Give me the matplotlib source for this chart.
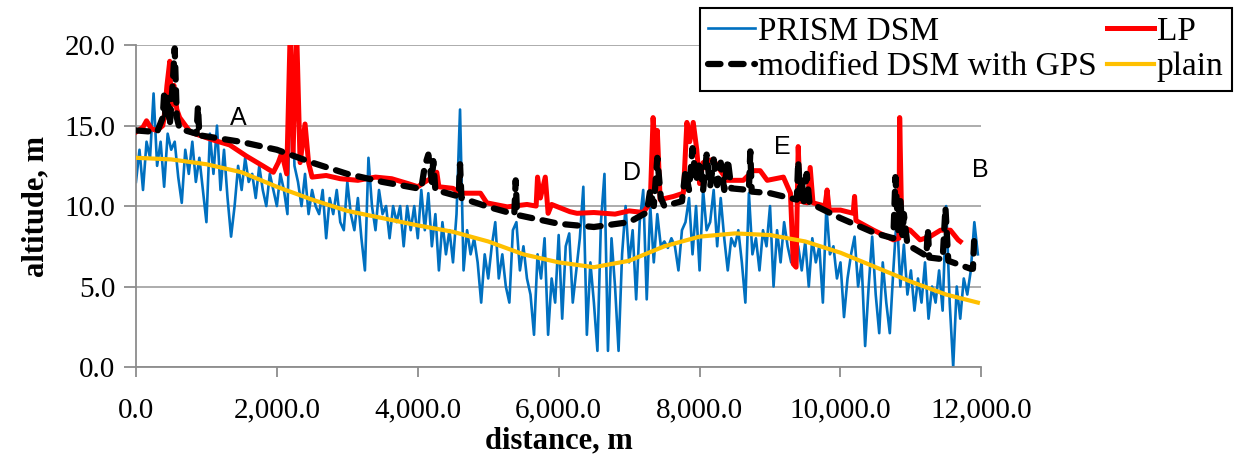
import numpy as np
import matplotlib
matplotlib.use("Agg")
import matplotlib.pyplot as plt

# PRISM DSM altitude, one value every 50 m from 0 m
prism_alt = [
    11.5, 13.5, 11.0, 14.0, 13.0, 17.0, 12.5, 14.0, 11.2, 14.5,
    13.5, 14.0, 11.8, 10.2, 13.5, 12.0, 14.0, 11.5, 13.0, 11.0,
    9.0, 14.5, 12.0, 15.0, 11.0, 13.5, 10.5, 8.1, 10.0, 12.5,
    11.0, 13.0, 11.5, 12.0, 10.5, 12.5, 11.0, 10.0, 12.0, 11.0,
    # 2000 m
    10.0, 12.0, 11.0, 9.5, 19.0, 12.5, 11.5, 10.0, 12.0, 9.5,
    11.0, 10.0, 9.5, 11.0, 8.0, 10.5, 9.5, 11.0, 9.0, 8.5,
    11.5, 9.5, 8.5, 10.5, 8.0, 6.0, 13.0, 10.0, 8.5, 11.0,
    9.5, 10.0, 8.0, 10.0, 9.0, 10.0, 7.5, 10.0, 8.5, 10.0,
    8.0,
    # 4050 m
    11.0, 8.5, 10.8, 7.5, 9.5, 6.0, 9.0, 7.0, 8.5, 6.5,
    9.5, 16.0, 6.0, 8.5, 7.0, 8.0, 6.5, 4.0, 7.0, 5.5,
    7.5, 9.0, 5.5, 7.0, 5.0, 4.0, 8.5, 9.0, 6.0, 7.5,
    5.5, 4.5, 2.0, 7.0, 5.5, 8.0, 2.0, 5.5, 4.0, 8.2,
    3.0,
    # 6100 m
    7.5, 8.3, 4.0, 6.0, 8.0, 11.2, 2.0, 6.5, 4.0, 1.0,
    9.0, 12.0, 1.0, 8.0, 5.0, 1.0, 7.0, 10.0, 6.5, 8.5,
    4.2, 9.0, 11.0, 4.2, 10.0, 6.5, 9.5, 7.5, 7.8, 7.4,
    8.0, 7.5, 6.0, 8.5, 9.0, 10.5, 7.0, 10.0, 6.0, 11.0,
    8.5,
    # 8150 m
    9.0, 11.0, 7.5, 10.5, 8.0, 6.0, 8.0, 7.5, 8.5, 6.5,
    4.0, 10.8, 7.0, 8.0, 6.0, 8.5, 7.5, 10.0, 5.0, 8.5,
    6.5, 9.0, 7.5, 6.5, 8.0, 7.5, 6.0, 7.8, 5.0, 8.0,
    6.5, 7.5, 4.0, 10.0, 7.0, 7.5, 5.5, 6.5, 3.1, 5.5,
    # 10150 m
    7.0, 8.1, 5.0, 6.5, 1.3, 5.0, 8.1, 4.5, 2.1, 6.5,
    4.0, 2.1, 6.0, 9.5, 5.0, 7.6, 4.5, 6.0, 3.5, 5.5,
    4.0, 6.5, 3.0, 5.0, 4.0, 6.0, 3.5, 10.0, 4.0, 0.0,
    5.0, 3.0, 5.5, 4.5, 6.0, 9.0, 7.0,
]
prism_dist = np.arange(len(prism_alt)) * 50

lp_dist = [0, 100, 150, 220, 300, 380, 400, 440, 480, 500, 540, 580, 620, 770,
           900, 1100, 1330, 1570, 1800, 1950, 2020, 2070, 2140, 2190, 2230, 2280,
           2330, 2400, 2450, 2500, 2700, 2900, 3150, 3400, 3630, 3860, 4000, 4100,
           4220, 4270, 4300, 4500, 4600, 4890, 4980, 5270, 5550, 5680, 5700, 5740,
           5810, 5850, 5900, 6160, 6260, 6500, 6800, 7000, 7200, 7300, 7340, 7380,
           7400, 7440, 7630, 7770, 7820, 7860, 7910, 7960, 8000, 8050, 8190, 8390,
           8620, 8760, 8860, 8960, 9190, 9290, 9330, 9370, 9400, 9430, 9530, 9570,
           9610, 9780, 9810, 9840, 10000, 10180, 10200, 10220, 10470, 10750, 10830,
           10840, 10870, 10990, 11130, 11270, 11420, 11560, 11670, 11700]
lp_alt = [14.6, 14.9, 15.3, 14.8, 14.7, 15.0, 15.5, 17.5, 19.0, 16.2, 17.5, 16.0,
          15.5, 14.6, 14.4, 14.1, 13.8, 13.1, 12.5, 12.1, 12.7, 13.3, 12.0, 21.0,
          13.3, 21.0, 12.7, 15.1, 12.7, 11.8, 11.9, 11.7, 11.6, 11.8, 11.7, 11.4,
          11.2, 11.5, 11.8, 12.1, 11.2, 11.1, 10.8, 10.8, 10.2, 9.95, 10.1, 10.0,
          11.8, 10.5, 11.8, 9.55, 10.1, 9.65, 9.55, 9.6, 9.5, 9.7, 9.6, 10.2, 15.5,
          13.0, 14.7, 10.4, 10.6, 10.8, 15.2, 14.0, 15.2, 13.5, 11.4, 12.7, 12.9,
          11.6, 11.6, 12.2, 12.2, 11.6, 11.8, 10.8, 6.4, 6.2, 13.7, 10.3, 10.2,
          12.4, 10.2, 10.0, 11.0, 9.75, 9.75, 9.55, 10.6, 9.1, 8.5, 7.9, 8.0, 15.5,
          8.7, 8.5, 7.9, 8.1, 8.5, 8.5, 7.9, 7.8]

gps_dist = [0, 300, 380, 400, 420, 450, 480, 520, 550, 580, 620, 860, 880, 900,
            1480, 2000, 2500, 3000, 3500, 4000, 4050, 4100, 4150, 4200, 4220, 4250,
            4580, 4600, 4620, 5000, 5370, 5390, 5410, 6000, 6500, 7000, 7250, 7300,
            7350, 7400, 7450, 7500, 7750, 7800, 7850, 7900, 7950, 8000, 8050, 8100,
            8150, 8200, 8250, 8300, 8350, 8400, 8450, 8700, 8720, 8740, 9000, 9380,
            9400, 9430, 9450, 9480, 9520, 9560, 10000, 10500, 10750, 10780, 10820,
            10850, 10880, 10900, 10950, 11220, 11240, 11260, 11450, 11490, 11530,
            11850, 11880, 11900]
gps_alt = [14.7, 14.6, 15.5, 17.0, 15.5, 16.8, 15.0, 17.5, 19.8, 15.5, 14.8, 14.5,
           16.2, 14.4, 14.0, 13.5, 12.7, 12.0, 11.5, 11.1, 11.1, 12.5, 13.2, 11.5,
           12.8, 11.0, 10.6, 12.6, 10.5, 9.95, 9.5, 11.6, 9.45, 8.9, 8.7, 9.0, 9.6,
           11.0, 10.0, 13.0, 10.5, 10.0, 10.3, 12.2, 11.0, 13.6, 11.5, 12.8, 11.0,
           13.2, 11.2, 12.9, 11.3, 12.7, 11.0, 12.9, 11.1, 11.0, 13.4, 10.9, 10.8,
           10.4, 12.8, 10.5, 11.6, 10.3, 12.0, 10.2, 9.25, 8.3, 8.0, 11.8, 8.5, 10.5,
           8.2, 9.5, 7.6, 6.9, 8.6, 6.8, 6.7, 9.9, 6.6, 6.1, 6.1, 8.2]

plain_dist = [0, 500, 1000, 1500, 2000, 2500, 3000, 3500, 4000, 4500, 5000, 5500,
              6000, 6500, 7000, 7500, 8000, 8500, 9000, 9500, 10000, 10500, 11000,
              11500, 11950]
plain_alt = [13.0, 12.9, 12.6, 12.1, 11.2, 10.4, 9.7, 9.25, 8.8, 8.4, 7.8, 7.0,
             6.5, 6.2, 6.6, 7.5, 8.1, 8.3, 8.2, 7.8, 7.1, 6.2, 5.3, 4.5, 4.0]

labels = ["A", "D", "E", "B"]
label_dist = [1450, 7045, 9175, 11985]
label_alt = [15.5, 12.05, 13.65, 12.25]

serif = ["Liberation Serif", "DejaVu Serif"]

fig = plt.figure(figsize=(12.36, 4.61), dpi=100)
ax = fig.add_axes([0.110, 0.204, 0.684, 0.698])

l1, = ax.plot(prism_dist, prism_alt, color="#0070C0", lw=1.9, zorder=2)
l2, = ax.plot(lp_dist, lp_alt, color="#FF0000", lw=3.6, zorder=3)
l3, = ax.plot(gps_dist, gps_alt, color="black", lw=4.5, zorder=4,
              dashes=(2.0, 1.7), dash_capstyle="round")
l4, = ax.plot(plain_dist, plain_alt, color="#FFC000", lw=3.0, zorder=5)

for t, xv, yv in zip(labels, label_dist, label_alt):
    ax.text(xv, yv, t, ha="center", va="center", fontsize=18,
            family="Liberation Sans", zorder=6)

ax.set_xlim(0, 12000)
ax.set_ylim(0, 20)
ax.set_xticks(np.arange(0, 12001, 2000))
ax.set_yticks(np.arange(0, 20.1, 5))
ax.xaxis.set_major_formatter(matplotlib.ticker.FuncFormatter(lambda v, p: f"{v:,.1f}"))
ax.yaxis.set_major_formatter(matplotlib.ticker.FuncFormatter(lambda v, p: f"{v:.1f}"))

ax.grid(axis="y", color="#A6A6A6", lw=1.3)
ax.set_axisbelow(True)
for s in ["top", "right"]:
    ax.spines[s].set_visible(False)
for s in ["left", "bottom"]:
    ax.spines[s].set_color("#8C8C8C")
    ax.spines[s].set_linewidth(1.3)
ax.tick_params(axis="both", colors="#8C8C8C", width=1.3, labelcolor="black",
               labelsize=21, direction="out")
ax.tick_params(axis="x", length=7, pad=15)
ax.tick_params(axis="y", length=9, pad=6)
for lab in ax.get_xticklabels() + ax.get_yticklabels():
    lab.set_family(serif)

ax.set_xlabel("distance, m", family=serif, fontsize=22, fontweight="bold", labelpad=2)
ax.set_ylabel("altitude, m", family=serif, fontsize=22, fontweight="bold", labelpad=10)

# legend fills column by column, so order gives rows PRISM/LP and modified/plain
leg = fig.legend([l1, l3, l2, l4], ["PRISM DSM", "modified DSM with GPS", "LP", "plain"],
                 loc="upper right", bbox_to_anchor=(1232 / 1236, 1 - 8 / 461),
                 ncol=2, frameon=True, fancybox=False, framealpha=1,
                 prop={"family": serif, "size": 24}, handlelength=1.4,
                 handletextpad=0.1, columnspacing=0.3, borderpad=0.25,
                 labelspacing=0.15, borderaxespad=0)
leg.get_frame().set_edgecolor("black")
leg.get_frame().set_linewidth(1.5)
leg.set_zorder(10)

fig.savefig("out.png", dpi=100)
